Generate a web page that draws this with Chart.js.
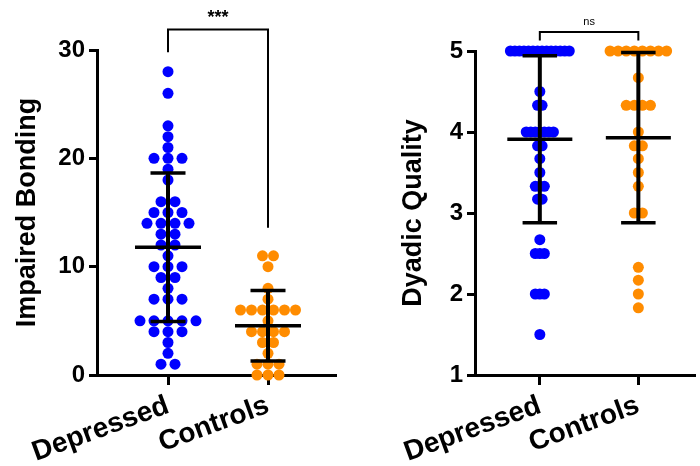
<!DOCTYPE html>
<html>
<head>
<meta charset="utf-8">
<script src="https://cdn.jsdelivr.net/npm/chart.js@4/dist/chart.umd.min.js"></script>
<style>
  body { margin: 0; background: #fff; }
  #wrap { position: relative; width: 700px; height: 466px; }
  canvas { position: absolute; top: 0; }
</style>
</head>
<body>
<div id="wrap">
  <canvas id="bonding" width="350" height="466" style="left:0"></canvas>
  <canvas id="quality" width="350" height="466" style="left:350px"></canvas>
</div>
<script>
const groups = ["Depressed", "Controls"];
const groupColors = ["#0000ff", "#ff8c00"];

// Impaired Bonding scores, one per subject
const bondingDepressed = [28, 26, 23, 22, 21, 20, 20, 20, 19, 18, 16, 16, 15, 15, 15,
  14, 14, 14, 14, 13, 13, 12, 12, 11, 10, 10, 10, 9, 9, 8, 7, 7, 7,
  5, 5, 5, 5, 5, 4, 4, 4, 3, 2, 1, 1];
const bondingControls = [11, 11, 10, 8, 7, 6, 6, 6, 6, 6, 6, 5, 4, 4, 4, 4, 3, 3, 2,
  1, 1, 1, 0, 0, 0];
const bondingMean = [11.8, 4.55];
const bondingSD = [6.85, 3.25];
const bondingTicks = [0, 10, 20, 30];

// Dyadic Quality scores
const qualityDepressed = [5, 5, 5, 5, 5, 5, 5, 5, 5, 5, 5, 5, 5, 5, 4.5, 4.33, 4.33,
  4, 4, 4, 4, 4, 4, 4, 3.83, 3.83, 3.67, 3.5, 3.33, 3.33, 3.33, 3.17, 3.17,
  2.67, 2.5, 2.5, 2.5, 2, 2, 2, 1.5];
const qualityControls = [5, 5, 5, 5, 5, 5, 5, 5, 4.67, 4.33, 4.33, 4.33, 4.33, 4,
  3.83, 3.83, 3.67, 3.5, 3.33, 3, 3, 2.33, 2.17, 2, 1.83];
const qualityMean = [3.91, 3.93];
const qualitySD = [1.03, 1.05];
const qualityTicks = [1, 2, 3, 4, 5];

// significance brackets: [bar level, left leg end, right leg end]
const bondingBracket = [31.9, 29.8, 13.6];
const qualityBracket = [5.235, 5.13, 5.13];

Chart.defaults.font.family = "'Liberation Sans', Arial, sans-serif";
Chart.defaults.color = "#000";

// spread equal values sideways, centred on the group
function swarm(values, center, step) {
  const counts = {};
  const seen = {};
  values.forEach((v) => (counts[v] = (counts[v] || 0) + 1));
  return values.map((v) => {
    const k = (seen[v] = (seen[v] || 0) + 1) - 1;
    return { x: center + (k - (counts[v] - 1) / 2) * step, y: v };
  });
}

const summaryPlugin = {
  id: "summary",
  afterDatasetsDraw(chart, args, opts) {
    const { ctx } = chart;
    const x = chart.scales.x;
    const y = chart.scales.y;
    ctx.save();
    ctx.strokeStyle = "#000";
    opts.means.forEach((m, i) => {
      const cx = x.getPixelForValue(i + 1);
      const half = x.getPixelForValue(i + 1.33) - cx;
      const cap = x.getPixelForValue(i + 1.175) - cx;
      const top = y.getPixelForValue(m + opts.sds[i]);
      const bot = y.getPixelForValue(m - opts.sds[i]);
      const my = y.getPixelForValue(m);
      ctx.lineWidth = 4;
      ctx.beginPath();
      ctx.moveTo(cx, top);
      ctx.lineTo(cx, bot);
      ctx.stroke();
      ctx.lineWidth = 3.5;
      ctx.beginPath();
      ctx.moveTo(cx - cap, top);
      ctx.lineTo(cx + cap, top);
      ctx.moveTo(cx - cap, bot);
      ctx.lineTo(cx + cap, bot);
      ctx.moveTo(cx - half, my);
      ctx.lineTo(cx + half, my);
      ctx.stroke();
    });

    // significance bracket
    const b = opts.bracket;
    const x1 = x.getPixelForValue(1);
    const x2 = x.getPixelForValue(2);
    const by = y.getPixelForValue(b[0]);
    ctx.lineWidth = 2;
    ctx.beginPath();
    ctx.moveTo(x1, y.getPixelForValue(b[1]));
    ctx.lineTo(x1, by);
    ctx.lineTo(x2, by);
    ctx.lineTo(x2, y.getPixelForValue(b[2]));
    ctx.stroke();
    ctx.fillStyle = "#000";
    ctx.font = opts.labelFont;
    ctx.textAlign = "center";
    ctx.textBaseline = "bottom";
    ctx.fillText(opts.label, (x1 + x2) / 2, by - opts.labelGap);
    ctx.restore();
  },
};

function makeChart(id, series, steps, cfg) {
  return new Chart(document.getElementById(id), {
    type: "scatter",
    data: {
      datasets: series.map((vals, i) => ({
        label: groups[i],
        data: swarm(vals, i + 1, steps[i]),
        backgroundColor: groupColors[i],
        pointRadius: 5.5,
        pointBorderWidth: 0,
        clip: false,
      })),
    },
    options: {
      responsive: false,
      animation: false,
      events: [],
      layout: { padding: cfg.padding },
      plugins: {
        legend: { display: false },
        tooltip: { enabled: false },
        summary: cfg.summary,
      },
      scales: {
        x: {
          type: "linear",
          min: cfg.xRange[0],
          max: cfg.xRange[1],
          afterBuildTicks: (s) => {
            s.ticks = groups.map((g, i) => ({ value: i + 1 }));
          },
          afterFit: (s) => {
            s.height = 91;
          },
          ticks: {
            autoSkip: false,
            minRotation: 20,
            maxRotation: 20,
            padding: 4,
            color: "#000",
            font: { size: 28, weight: "bold" },
            callback: (v) => groups[v - 1],
          },
          grid: {
            drawOnChartArea: false,
            drawTicks: true,
            tickLength: 10,
            color: "#000",
            lineWidth: 3,
          },
          border: { display: true, color: "#000", width: 3 },
        },
        y: {
          min: cfg.yTicks[0],
          max: cfg.yTicks[cfg.yTicks.length - 1],
          afterBuildTicks: (s) => {
            s.ticks = cfg.yTicks.map((v) => ({ value: v }));
          },
          afterFit: (s) => {
            s.width = cfg.yWidth;
          },
          ticks: {
            padding: 4,
            color: "#000",
            font: { size: 24, weight: "bold" },
          },
          title: {
            display: true,
            text: cfg.title,
            color: "#000",
            font: { size: 27, weight: "bold" },
            padding: { top: cfg.titlePad, bottom: 0 },
          },
          grid: {
            drawOnChartArea: false,
            drawTicks: true,
            tickLength: 8,
            color: "#000",
            lineWidth: 3,
          },
          border: { display: true, color: "#000", width: 3 },
        },
      },
    },
    plugins: [summaryPlugin],
  });
}

makeChart("bonding", [bondingDepressed, bondingControls], [0.14, 0.11], {
  padding: { top: 50, right: 15, left: 0, bottom: 0 },
  xRange: [0.29, 2.67],
  yTicks: bondingTicks,
  yWidth: 97,
  title: "Impaired Bonding",
  titlePad: 11,
  summary: {
    means: bondingMean,
    sds: bondingSD,
    bracket: bondingBracket,
    label: "***",
    labelFont: "bold 18px 'Liberation Sans', Arial, sans-serif",
    labelGap: 2,
  },
});

makeChart("quality", [qualityDepressed, qualityControls], [0.046, 0.082], {
  padding: { top: 51, right: 0, left: 0, bottom: 0 },
  xRange: [0.342, 2.57],
  yTicks: qualityTicks,
  yWidth: 125,
  title: "Dyadic Quality",
  titlePad: 47,
  summary: {
    means: qualityMean,
    sds: qualitySD,
    bracket: qualityBracket,
    label: "ns",
    labelFont: "11px 'Liberation Sans', Arial, sans-serif",
    labelGap: 4,
  },
});
</script>
</body>
</html>
